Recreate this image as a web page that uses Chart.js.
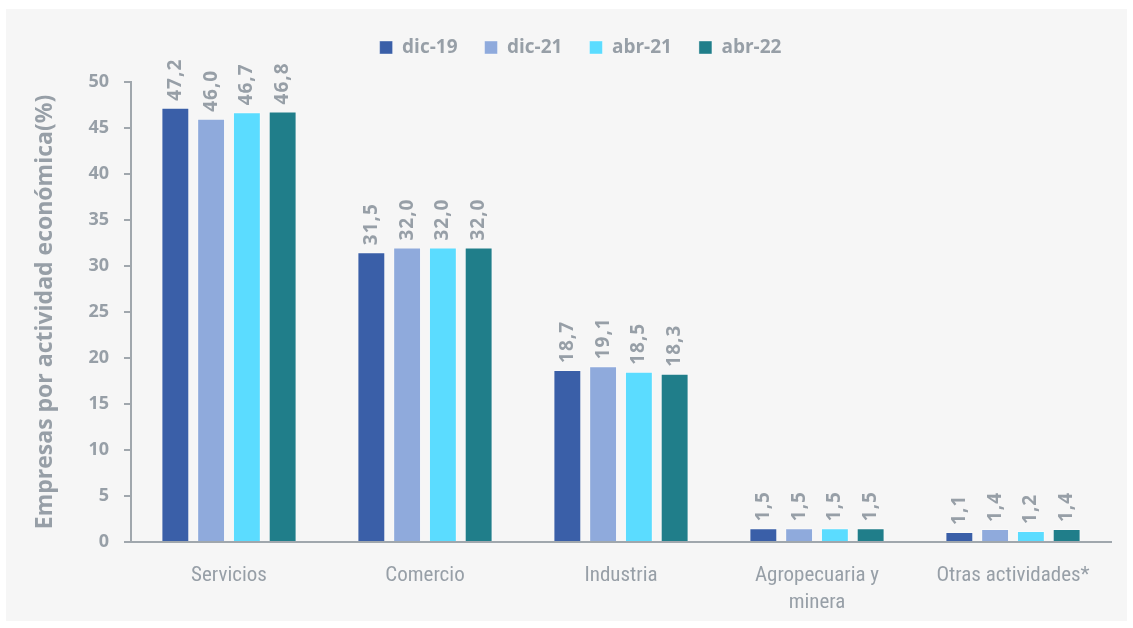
<!DOCTYPE html>
<html>
<head>
<meta charset="utf-8">
<script src="https://cdn.jsdelivr.net/npm/chart.js@4"></script>
<style>
  html, body { margin: 0; padding: 0; background: #ffffff; }
  #box { position: absolute; left: 6px; top: 9px; width: 1121px; height: 612px; background: #f6f6f6; }
  #box canvas { display: block; }
</style>
</head>
<body>
<div id="box"><canvas id="chart" width="1121" height="612"></canvas></div>
<script>
const categories = ['Servicios', 'Comercio', 'Industria', ['Agropecuaria y', 'minera'], 'Otras actividades*']
const seriesNames = ['dic-19', 'dic-21', 'abr-21', 'abr-22']
const dic19 = [47.2, 31.5, 18.7, 1.5, 1.1]
const dic21 = [46.0, 32.0, 19.1, 1.5, 1.4]
const abr21 = [46.7, 32.0, 18.5, 1.5, 1.2]
const abr22 = [46.8, 32.0, 18.3, 1.5, 1.4]
const yTicks = [0, 5, 10, 15, 20, 25, 30, 35, 40, 45, 50]

const colors = ['#3a5fa8', '#8faadc', '#5bdcff', '#207e8a']
const grey = '#979fa7'
const boldFont = '"Open Sans", "DejaVu Sans", sans-serif'

// draws the rotated value above each bar
const valueLabels = {
  id: 'valueLabels',
  afterDatasetsDraw(chart) {
    const ctx = chart.ctx
    ctx.save()
    ctx.font = 'bold 19px ' + boldFont
    ctx.letterSpacing = '1px'
    ctx.fillStyle = grey
    ctx.textAlign = 'left'
    ctx.textBaseline = 'middle'
    chart.data.datasets.forEach((ds, i) => {
      chart.getDatasetMeta(i).data.forEach((bar, j) => {
        ctx.save()
        ctx.translate(bar.x, bar.y - 7)
        ctx.rotate(-Math.PI / 2)
        ctx.fillText(ds.data[j].toFixed(1).replace('.', ','), 0, 0)
        ctx.restore()
      })
    })
    ctx.restore()
  }
}

// legend sits a bit right of the canvas centre and leaves a gap above the plot
const legendTweak = {
  id: 'legendTweak',
  beforeInit(chart) {
    const fit = chart.legend.fit
    chart.legend.fit = function () {
      fit.bind(chart.legend)()
      this.height += 15
    }
  },
  afterLayout(chart) {
    chart.legend.left += 22
    chart.legend.right += 22
  }
}

const data = [dic19, dic21, abr21, abr22]
new Chart(document.getElementById('chart'), {
  type: 'bar',
  data: {
    labels: categories,
    datasets: seriesNames.map((name, i) => ({
      label: name,
      data: data[i],
      backgroundColor: colors[i],
      borderColor: 'rgba(255,255,255,0.4)',
      borderWidth: 1,
      categoryPercentage: 0.73,
      barPercentage: 0.78,
    })),
  },
  options: {
    responsive: false,
    animation: false,
    layout: { padding: { left: 0, right: 16, top: 2, bottom: 0 } },
    plugins: {
      legend: {
        position: 'top',
        labels: {
          boxWidth: 13,
          boxHeight: 13,
          padding: 27,
          color: grey,
          font: { family: boldFont, size: 19, weight: 'bold' },
        },
      },
      tooltip: { enabled: false },
    },
    scales: {
      x: {
        afterFit(axis) { axis.height = 79 },
        grid: { display: false, drawTicks: false },
        border: { color: '#a0a7ad', width: 2 },
        ticks: {
          color: grey,
          padding: 20,
          maxRotation: 0,
          font: { family: '"Liberation Sans Narrow", "Roboto Condensed", Roboto, sans-serif', size: 21, lineHeight: 1.3 },
        },
      },
      y: {
        min: 0,
        max: 50,
        afterBuildTicks(axis) { axis.ticks = yTicks.map((v) => ({ value: v })) },
        afterFit(axis) { axis.width = 125 },
        grid: { display: true, drawOnChartArea: false, drawTicks: true, tickLength: 7, color: '#a0a7ad', lineWidth: 2 },
        border: { color: '#a0a7ad', width: 2 },
        ticks: {
          color: grey,
          padding: 15,
          font: { family: boldFont, size: 18, weight: 'bold' },
        },
        title: {
          display: true,
          text: 'Empresas por actividad económica(%)',
          color: grey,
          padding: { top: 26, bottom: 0 },
          font: { family: boldFont, size: 23, weight: 'bold' },
        },
      },
    },
  },
  plugins: [valueLabels, legendTweak],
})
</script>
</body>
</html>
